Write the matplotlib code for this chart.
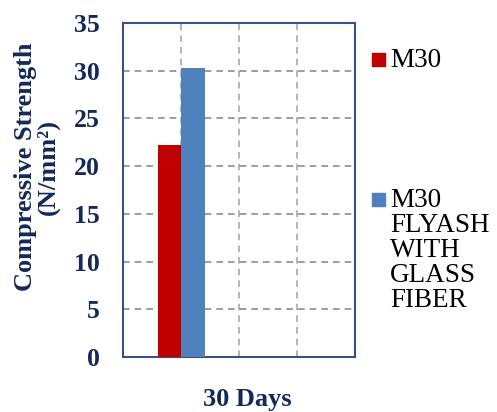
import numpy as np
import matplotlib
matplotlib.use('Agg')
import matplotlib.pyplot as plt
from matplotlib.patches import Rectangle

plt.rcParams['font.family'] = ['Liberation Serif', 'DejaVu Serif']

category = "30 Days"
series = ["M30", "M30\nFLYASH\nWITH\nGLASS\nFIBER"]
values = [22.2, 30.3]
colors = ["#C00000", "#4F81BD"]
yticks = [0, 5, 10, 15, 20, 25, 30, 35]

navy = "#14285A"

fig = plt.figure(figsize=(4.97, 4.12), dpi=100)
ax = fig.add_axes([0.2475, 0.1335, 0.4668, 0.8107])

# bars sit left of the category centre, like the original sheet
xpos = [0.6, 1.0]
for x, v, c in zip(xpos, values, colors):
    ax.bar(x, v, width=0.41, align='edge', color=c, zorder=3)

ax.set_xlim(0, 4)
ax.set_ylim(0, 35)
ax.set_yticks(yticks)
ax.set_yticklabels([str(t) for t in yticks], fontsize=18.5, fontweight='bold', color=navy)
ax.set_xticks([2.14])
ax.set_xticklabels([category], fontsize=19, fontweight='bold', color=navy)
ax.tick_params(axis='both', length=0)
ax.tick_params(axis='y', pad=17)
ax.tick_params(axis='x', pad=22)

for gx in [1, 2, 3]:
    ax.axvline(gx, linestyle=(0, (4, 3)), color='#A8A8A8', linewidth=1.2, zorder=0)
ax.grid(True, which='major', axis='y', linestyle=(0, (4, 3)), color='#8C8C8C', linewidth=1.2, zorder=0)

for s in ax.spines.values():
    s.set_color('#3A5080')
    s.set_linewidth(1.5)

fig.text(37 / 497, 1 - 167 / 412, "Compressive Strength\n(N/mm²)", rotation=90,
         ha='center', va='center', multialignment='center',
         fontsize=19, fontweight='bold', color=navy, linespacing=1.0)

# legend drawn by hand to keep the wide gap between entries
leg_y = [1 - 59 / 412, 1 - 199 / 412]
for name, c, y in zip(series, colors, leg_y):
    fig.patches.append(Rectangle((372 / 497, y - 6.5 / 412), 13 / 497, 13 / 412,
                                 transform=fig.transFigure, color=c))
    fig.text(390 / 497, y + 11 / 412, name, ha='left', va='top', fontsize=19.5,
             color='black', linespacing=1.0)

fig.savefig("out.png", dpi=100)
